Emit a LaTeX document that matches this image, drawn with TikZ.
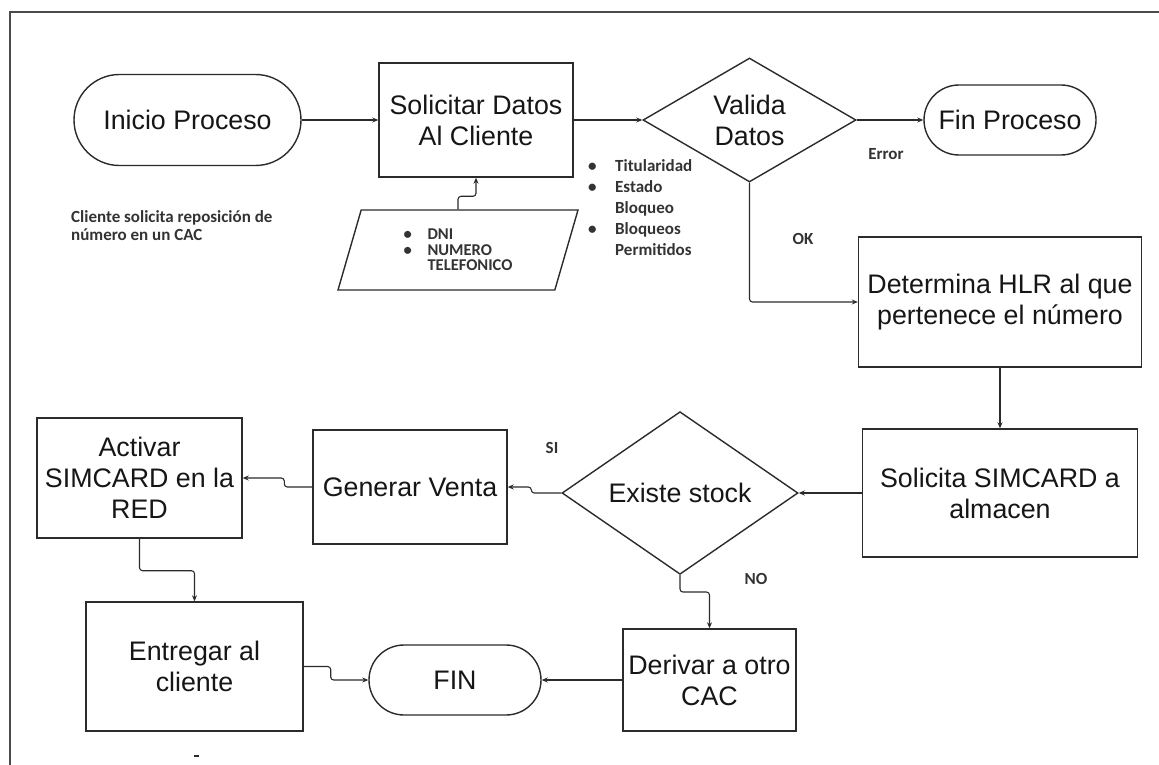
\documentclass[tikz,border=0pt]{standalone}
\usepackage{fontspec}
\setmainfont{Liberation Sans}
\newfontfamily\calfont{Carlito}
\usetikzlibrary{shapes.geometric,shapes.misc,arrows.meta}
\definecolor{ink}{HTML}{2B2B2B}
\definecolor{txt}{HTML}{161616}
\definecolor{notec}{HTML}{333333}
\newcommand\mainlbl{\fontsize{26.8}{31}\selectfont}
\begin{document}
\begin{tikzpicture}[x=1pt,y=-1pt,
  box/.style={draw=ink, line width=1.4pt, fill=white, inner sep=2pt, align=center, text=txt, font=\mainlbl},
  term/.style={box, rounded rectangle},
  dec/.style={box, diamond, inner sep=0pt},
  conn/.style={draw=ink, line width=1.1pt, -{Stealth[length=6pt,width=5pt]}, rounded corners=3pt},
  note/.style={text=notec, inner sep=0pt, align=left, font=\calfont\bfseries\fontsize{17}{18}\selectfont},
  frameline/.style={draw=ink!85, line width=1.5pt}
]
\useasboundingbox (0,0) rectangle (1159,765);
% frame
\draw[frameline] (1159,12) -- (10,12) -- (10,765);
% nodes
\node[term, minimum width=231pt, minimum height=91pt] (ini) at (187.5,120) {Inicio Proceso};
\node[box, minimum width=194pt, minimum height=114pt] (sol) at (476,120) {Solicitar Datos\\Al Cliente};
\node[dec, minimum width=213pt, minimum height=124pt] (val) at (749.5,120) {Valida\\Datos};
\node[term, minimum width=176pt, minimum height=70pt] (finp) at (1010,120) {Fin Proceso};
\node[box, minimum width=283pt, minimum height=130pt] (det) at (1000,302) {Determina HLR al que\\pertenece el número};
\node[box, minimum width=275pt, minimum height=128pt] (alm) at (1000,493) {Solicita SIMCARD a\\almacen};
\node[dec, minimum width=236pt, minimum height=140pt] (stk) at (680,493) {Existe stock};
\node[box, minimum width=194pt, minimum height=114pt] (ven) at (410,487) {Generar Venta};
\node[box, minimum width=205pt, minimum height=120pt] (act) at (139.5,478) {Activar\\SIMCARD en la\\RED};
\node[box, minimum width=217pt, minimum height=129pt] (ent) at (194.5,666.5) {Entregar al\\cliente};
\node[term, minimum width=176pt, minimum height=70pt] (fin) at (455,680) {FIN};
\node[box, minimum width=173pt, minimum height=102pt] (der) at (709.5,680) {Derivar a otro\\CAC};
% data parallelogram
\node[draw=ink, line width=1.4pt, fill=white, trapezium, trapezium left angle=61, trapezium right angle=119,
      trapezium stretches body, minimum width=240pt, minimum height=80pt, inner sep=0pt,
      text=notec, align=left, font=\calfont\bfseries\fontsize{16.5}{15.5}\selectfont] (dat) at (458,250)
  {\makebox[24pt][l]{\textbullet}DNI\\\makebox[24pt][l]{\textbullet}NUMERO\\\hspace*{24pt}TELEFONICO};
% notes
\node[note, anchor=west] (cap) at (71,226) {Cliente solicita reposición de\\número en un CAC};
\node[note, anchor=west, font=\calfont\bfseries\fontsize{17}{21}\selectfont] (crit) at (588,208)
  {\makebox[27pt][l]{\textbullet}Titularidad\\\makebox[27pt][l]{\textbullet}Estado\\\hspace*{27pt}Bloqueo\\\makebox[27pt][l]{\textbullet}Bloqueos\\\hspace*{27pt}Permitidos};
\node[note] (lerr) at (886,154) {Error};
\node[note] (lok) at (803,239) {OK};
\node[note] (lsi) at (552,448) {SI};
\node[note] (lno) at (756,579) {NO};
% connectors
\draw[conn] (ini.east) -- (sol.west);
\draw[conn] (sol.east) -- (val.west);
\draw[conn] (dat.north) -- ++(0,-13) -| (sol.south);
\draw[conn] (val.east) -- (finp.west);
\draw[conn] (val.south) |- (det.west);
\draw[conn] (det.south) -- (alm.north);
\draw[conn] (alm.west) -- (stk.east);
\draw[conn] (stk.west) -- ++(-30,0) |- (ven.east);
\draw[conn] (stk.south) -- ++(0,17) -| (der.north);
\draw[conn] (der.west) -- (fin.east);
\draw[conn] (ven.west) -- ++(-28,0) |- (act.east);
\draw[conn] (act.south) -- ++(0,32) -| (ent.north);
\draw[conn] (ent.east) -- ++(27,0) |- (fin.west);
% small scan mark
\draw[ink, line width=1.2pt] (194,756) -- (199,756);
\end{tikzpicture}
\end{document}
